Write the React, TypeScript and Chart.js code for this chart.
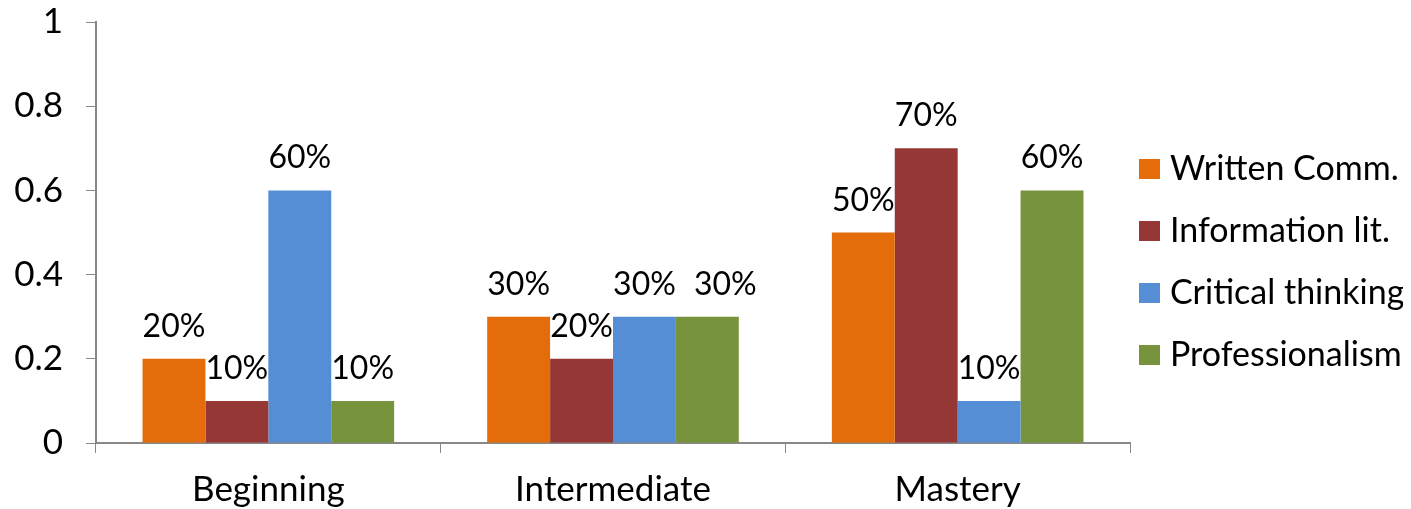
import React, { useEffect, useRef } from "react";
import { Chart, registerables } from "chart.js";

Chart.register(...registerables);

const categories = ["Beginning", "Intermediate", "Mastery"];
const seriesNames = ["Written Comm.", "Information lit.", "Critical thinking", "Professionalism"];
const writtenComm = [0.2, 0.3, 0.5];
const informationLit = [0.1, 0.2, 0.7];
const criticalThinking = [0.6, 0.3, 0.1];
const professionalism = [0.1, 0.3, 0.6];
const seriesColors = ["#E46C0A", "#953735", "#558ED5", "#77933C"];
const yTicks = [0, 0.2, 0.4, 0.6, 0.8, 1];

const FONT = "Lato, 'Open Sans', sans-serif";

const dataLabelPlugin = {
  id: "dataLabels",
  afterDatasetsDraw(chart: any) {
    const ctx = chart.ctx;
    ctx.save();
    ctx.font = `32px ${FONT}`;
    ctx.fillStyle = "#000";
    ctx.textAlign = "center";
    ctx.textBaseline = "alphabetic";
    chart.data.datasets.forEach((ds: any, i: number) => {
      const meta = chart.getDatasetMeta(i);
      meta.data.forEach((bar: any, j: number) => {
        const v = ds.data[j];
        // the label of the last series in the middle group sits slightly to the right
        const dx = i === 3 && j === 1 ? 18 : 0;
        ctx.fillText(Math.round(v * 100) + "%", bar.x + dx, bar.y - 22);
      });
    });
    ctx.restore();
  },
};

const sideLegendPlugin = {
  id: "sideLegend",
  afterDraw(chart: any) {
    const ctx = chart.ctx;
    const area = chart.chartArea;
    const boxX = area.right + 9;
    const textX = area.right + 40;
    const firstY = 161;
    const step = 62;
    ctx.save();
    ctx.font = `34px ${FONT}`;
    ctx.textAlign = "left";
    ctx.textBaseline = "middle";
    chart.data.datasets.forEach((ds: any, i: number) => {
      const cy = firstY + i * step;
      ctx.fillStyle = ds.backgroundColor;
      ctx.fillRect(boxX, cy - 10, 21, 20);
      ctx.fillStyle = "#000";
      ctx.fillText(ds.label, textX, cy);
    });
    ctx.restore();
  },
};

export default function App() {
  const ref = useRef<HTMLCanvasElement | null>(null);
  useEffect(() => {
    if (!ref.current) return;
    const values = [writtenComm, informationLit, criticalThinking, professionalism];
    const chart = new Chart(ref.current, {
      type: "bar",
      data: {
        labels: categories,
        datasets: seriesNames.map((name, i) => ({
          label: name,
          data: values[i],
          backgroundColor: seriesColors[i],
          borderWidth: 0,
          barPercentage: 1,
          categoryPercentage: 0.73,
        })),
      },
      options: {
        animation: false,
        responsive: true,
        maintainAspectRatio: false,
        layout: { padding: { top: 0, right: 273, left: 0, bottom: 0 } },
        plugins: {
          tooltip: { enabled: false },
          legend: { display: false },
        },
        scales: {
          x: {
            offset: true,
            grid: {
              offset: true,
              drawOnChartArea: false,
              drawTicks: true,
              tickLength: 10,
              color: "#888",
            },
            border: { color: "#888", width: 2 },
            ticks: {
              color: "#000",
              font: { family: FONT, size: 35, lineHeight: 1.086 },
              padding: 18,
            },
            afterFit(scale: any) {
              scale.height = 66;
            },
          },
          y: {
            min: 0,
            max: 1,
            afterBuildTicks(axis: any) {
              axis.ticks = yTicks.map((v) => ({ value: v }));
            },
            grid: {
              drawOnChartArea: false,
              drawTicks: true,
              tickLength: 10,
              color: "#888",
            },
            border: { color: "#888", width: 2 },
            ticks: {
              color: "#000",
              font: { family: FONT, size: 35, lineHeight: 0.8 },
              padding: 23,
              callback: (v: any) => String(Math.round(Number(v) * 10) / 10),
            },
            afterFit(scale: any) {
              scale.width = 88;
              scale.paddingTop = 14;
              scale.paddingBottom = 14;
            },
          },
        },
      },
      plugins: [dataLabelPlugin, sideLegendPlugin],
    });
    return () => chart.destroy();
  }, []);
  return (
    <div style={{ width: 1395, height: 501, position: "relative" }}>
      <canvas ref={ref} />
    </div>
  );
}
